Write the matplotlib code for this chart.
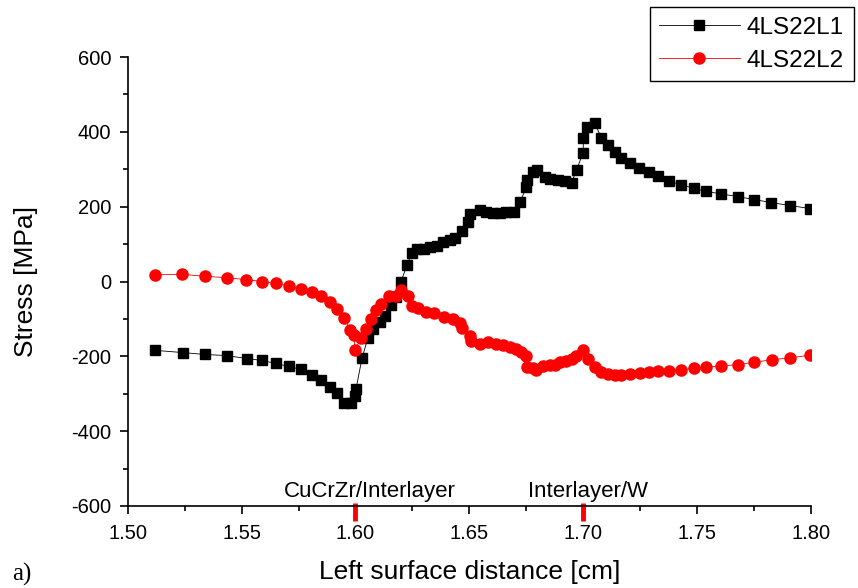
import numpy as np
import matplotlib.pyplot as plt
from matplotlib.ticker import MultipleLocator, FormatStrFormatter
import matplotlib.transforms as mtransforms

plt.rcParams['font.family'] = ['Liberation Sans', 'DejaVu Sans']
plt.rcParams['axes.unicode_minus'] = False

# 4LS22L1 - stress profile (black squares)
dist_l1 = [1.5119, 1.5242, 1.5338, 1.5435, 1.5523, 1.5589, 1.5650, 1.5707, 1.5760,
           1.5808, 1.5848, 1.5887, 1.5918, 1.5949, 1.5979, 1.6000, 1.6002, 1.6029,
           1.6055, 1.6077, 1.6107, 1.6129, 1.6155, 1.6180, 1.6198, 1.6228, 1.6246,
           1.6271, 1.6300, 1.6326, 1.6356, 1.6385, 1.6414, 1.6436, 1.6466, 1.6494,
           1.6502, 1.6546, 1.6575, 1.6604, 1.6634, 1.6663, 1.6697, 1.6722, 1.6751,
           1.6753, 1.6780, 1.6797, 1.6831, 1.6853, 1.6890, 1.6920, 1.6949, 1.6971,
           1.7000, 1.7001, 1.7017, 1.7051, 1.7080, 1.7109, 1.7139, 1.7168, 1.7205,
           1.7246, 1.7289, 1.7329, 1.7377, 1.7429, 1.7487, 1.7538, 1.7607, 1.7680,
           1.7751, 1.7827, 1.7909, 1.7997]
stress_l1 = [-184, -190, -195, -198, -206, -211, -219, -227, -235,
             -251, -262, -283, -299, -326, -326, -307, -288, -204,
             -150, -126, -107, -91, -64, -42, -2, 45, 76,
             87, 88, 92, 96, 105, 110, 117, 136, 158,
             181, 190, 185, 183, 184, 185, 186, 212, 252,
             270, 292, 298, 279, 274, 270, 269, 264, 299,
             344, 384, 414, 423, 384, 365, 346, 331, 316,
             304, 292, 281, 268, 259, 249, 241, 234, 227,
             219, 211, 203, 195]

# 4LS22L2 - stress profile (red circles)
dist_l2 = [1.5119, 1.5240, 1.5338, 1.5436, 1.5521, 1.5590, 1.5649, 1.5708, 1.5760,
           1.5808, 1.5848, 1.5887, 1.5919, 1.5950, 1.5976, 1.5993, 1.5997, 1.6024,
           1.6045, 1.6070, 1.6092, 1.6114, 1.6148, 1.6177, 1.6199, 1.6231, 1.6248,
           1.6275, 1.6310, 1.6345, 1.6390, 1.6429, 1.6458, 1.6470, 1.6502, 1.6509,
           1.6546, 1.6582, 1.6619, 1.6648, 1.6678, 1.6707, 1.6729, 1.6751, 1.6753,
           1.6780, 1.6795, 1.6824, 1.6853, 1.6875, 1.6897, 1.6924, 1.6949, 1.6968,
           1.7000, 1.7022, 1.7051, 1.7080, 1.7109, 1.7139, 1.7168, 1.7205, 1.7249,
           1.7289, 1.7329, 1.7377, 1.7429, 1.7487, 1.7538, 1.7607, 1.7680, 1.7751,
           1.7830, 1.7909, 1.7997]
stress_l2 = [18, 19, 14, 10, 5, 0, -5, -12, -20,
             -29, -39, -56, -73, -98, -129, -144, -183, -152,
             -127, -100, -76, -61, -40, -39, -24, -40, -65,
             -70, -82, -85, -94, -101, -112, -124, -145, -158,
             -166, -162, -166, -170, -175, -180, -189, -198, -229,
             -230, -236, -225, -224, -222, -214, -212, -208, -198,
             -184, -208, -229, -242, -248, -249, -250, -248, -244,
             -242, -240, -238, -236, -232, -229, -226, -222, -216,
             -209, -204, -197]

# interfaces marked on the x axis
interfaces = [1.60, 1.70]
interface_names = ['CuCrZr/Interlayer', 'Interlayer/W']
name_x = [1.6063, 1.702]

fig = plt.figure(figsize=(8.58, 5.88), dpi=100)
ax = fig.add_axes([0.149, 0.1395, 0.796, 0.7635])

ax.plot(dist_l1, stress_l1, color='black', lw=0.6, marker='s', ms=6.5,
        mec='black', mfc='black', label='4LS22L1')
ax.plot(dist_l2, stress_l2, color='red', lw=0.6, marker='o', ms=8,
        mec='red', mfc='red', label='4LS22L2')

ax.set_xlim(1.50, 1.80)
ax.set_ylim(-600, 600)
ax.xaxis.set_major_locator(MultipleLocator(0.05))
ax.xaxis.set_minor_locator(MultipleLocator(0.025))
ax.xaxis.set_major_formatter(FormatStrFormatter('%.2f'))
ax.yaxis.set_major_locator(MultipleLocator(200))
ax.yaxis.set_minor_locator(MultipleLocator(100))

for side in ['top', 'right']:
    ax.spines[side].set_visible(False)
for side in ['left', 'bottom']:
    ax.spines[side].set_linewidth(1.2)

ax.tick_params(which='major', direction='out', length=6, width=1.2, labelsize=14.5)
ax.tick_params(axis='x', which='major', pad=7)
ax.tick_params(axis='y', which='major', pad=6)
ax.tick_params(which='minor', direction='out', length=3.5, width=1.2)

ax.set_xlabel('Left surface distance [cm]', fontsize=19, labelpad=12)
ax.set_ylabel('Stress [MPa]', fontsize=19, labelpad=24)

# red marks and names for the interfaces
trans = mtransforms.blended_transform_factory(ax.transData, ax.transAxes)
for xi in interfaces:
    ax.plot([xi, xi], [0.007, -0.034], color='red', lw=3.5, transform=trans,
            clip_on=False, solid_capstyle='butt')
for xn, name in zip(name_x, interface_names):
    ax.text(xn, -560, name, ha='center', va='center', fontsize=16)

leg = fig.legend(loc='upper right', bbox_to_anchor=(0.995, 0.988), fontsize=17.5,
                 frameon=True, fancybox=False, edgecolor='black', framealpha=1,
                 handlelength=3.3, handletextpad=0.3, borderpad=0.4,
                 labelspacing=0.45, borderaxespad=0)
leg.get_frame().set_linewidth(1.0)

fig.text(0.014, 0.012, 'a)', fontsize=18, family='Liberation Serif')

fig.savefig('out.png', dpi=100)
